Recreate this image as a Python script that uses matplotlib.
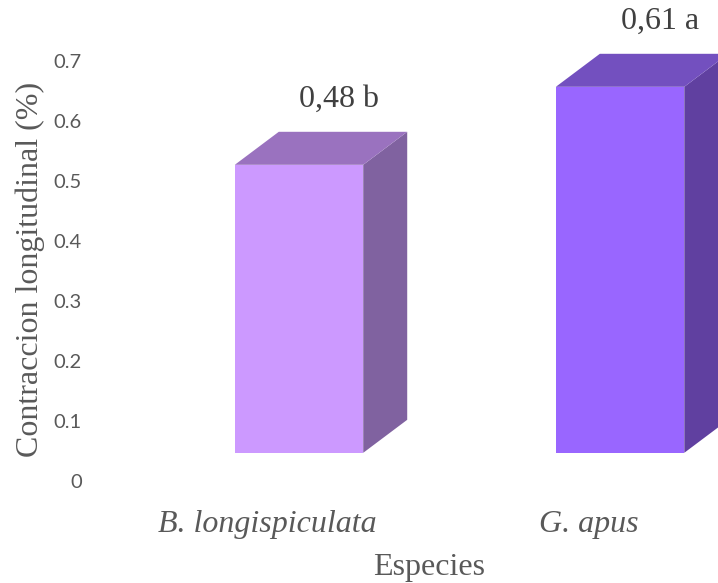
import matplotlib.pyplot as plt
from matplotlib.patches import Polygon
from matplotlib.transforms import ScaledTranslation

# data
species = ["B. longispiculata", "G. apus"]
values = [0.48, 0.61]
value_labels = ["0,48 b", "0,61 a"]
y_ticks = [0, 0.1, 0.2, 0.3, 0.4, 0.5, 0.6, 0.7]

# colours: front, top, side
front_colors = ["#CC99FF", "#9966FF"]
top_colors = ["#9A72BF", "#7350BF"]
side_colors = ["#8062A0", "#6040A0"]
text_gray = "#595959"

# 3D look (in axis units)
bar_width = 0.4
depth_x = 0.137
depth_y = 0.055
base = 0.047

fig = plt.figure(figsize=(7.18, 5.83), dpi=100)
ax = fig.add_axes([90 / 718, 102 / 583, 628 / 718, 480 / 583])
ax.set_xlim(-0.651, 1.305)
ax.set_ylim(0, 0.8)

for i, v in enumerate(values):
    x0 = i - bar_width / 2
    x1 = i + bar_width / 2
    y0 = base
    y1 = base + v
    front = [(x0, y0), (x1, y0), (x1, y1), (x0, y1)]
    top = [(x0, y1), (x1, y1), (x1 + depth_x, y1 + depth_y), (x0 + depth_x, y1 + depth_y)]
    side = [(x1, y0), (x1 + depth_x, y0 + depth_y), (x1 + depth_x, y1 + depth_y), (x1, y1)]
    ax.add_patch(Polygon(side, closed=True, facecolor=side_colors[i], edgecolor="none", clip_on=False))
    ax.add_patch(Polygon(top, closed=True, facecolor=top_colors[i], edgecolor="none", clip_on=False))
    ax.add_patch(Polygon(front, closed=True, facecolor=front_colors[i], edgecolor="none", clip_on=False))
    ax.annotate(value_labels[i], xy=(i + depth_x / 2, y1 + depth_y), xytext=(18, 32),
                textcoords="offset pixels", ha="center", va="center",
                fontsize=23, family="Liberation Serif", color="#404040", annotation_clip=False)

# axes styling
for s in ax.spines.values():
    s.set_visible(False)
ax.set_yticks(y_ticks)
ax.set_yticklabels([f"{t:g}" for t in y_ticks], family="Lato", fontsize=14.5, color=text_gray)
ax.tick_params(axis="y", length=0, pad=6)

ax.set_xticks(range(len(species)))
ax.set_xticklabels(species, family="Liberation Serif", style="italic", fontsize=23, color=text_gray)
ax.tick_params(axis="x", length=0, pad=21)
shift = ScaledTranslation(-31.5 / 100, 0, fig.dpi_scale_trans)
for lbl in ax.get_xticklabels():
    lbl.set_transform(lbl.get_transform() + shift)

ax.set_ylabel("Contraccion longitudinal (%)", family="Liberation Serif", fontsize=23, color=text_gray)
ax.yaxis.set_label_coords(-0.0955, 0.44)
ax.set_xlabel("Especies", family="Liberation Serif", fontsize=23, color=text_gray)
ax.xaxis.set_label_coords((429 - 90) / 628, -87 / 480)
ax.xaxis.label.set_va("center")
ax.yaxis.label.set_va("center")

fig.savefig("out.png", dpi=100)
